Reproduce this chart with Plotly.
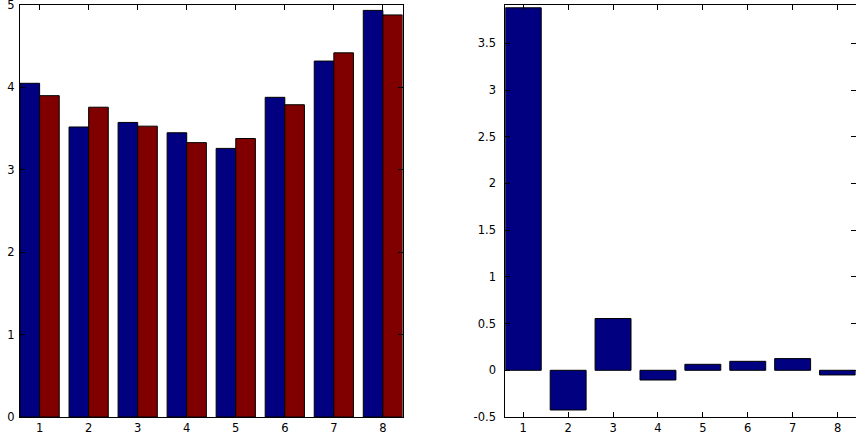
import plotly.graph_objects as go
from plotly.subplots import make_subplots

categories = [1, 2, 3, 4, 5, 6, 7, 8]
series_a = [4.05, 3.52, 3.575, 3.45, 3.26, 3.88, 4.32, 4.935]
series_b = [3.90, 3.76, 3.53, 3.33, 3.38, 3.79, 4.42, 4.88]
diff_values = [3.88, -0.425, 0.554, -0.104, 0.064, 0.096, 0.125, -0.05]

left_yticks = [0, 1, 2, 3, 4, 5]
right_yticks = [-0.5, 0, 0.5, 1, 1.5, 2, 2.5, 3, 3.5]
right_yticklabels = ["-0.5", "0", "0.5", "1", "1.5", "2", "2.5", "3", "3.5"]

navy = "#000080"
maroon = "#800000"

fig = make_subplots(rows=1, cols=2)

fig.add_trace(go.Bar(x=categories, y=series_a, marker=dict(color=navy, line=dict(color="black", width=1)),
                     showlegend=False), row=1, col=1)
fig.add_trace(go.Bar(x=categories, y=series_b, marker=dict(color=maroon, line=dict(color="black", width=1)),
                     showlegend=False), row=1, col=1)
fig.add_trace(go.Bar(x=categories, y=diff_values, marker=dict(color=navy, line=dict(color="black", width=1)),
                     showlegend=False), row=1, col=2)

font = dict(family="DejaVu Sans", size=11.5, color="black")
axis_common = dict(showline=True, linecolor="black", linewidth=1, mirror="allticks",
                   ticks="inside", ticklen=5, tickcolor="black", showgrid=False, zeroline=False,
                   tickfont=font, automargin=False, ticklabeloverflow="allow")

fig.update_layout(
    width=856, height=434,
    margin=dict(l=0, r=0, t=5, b=17),
    plot_bgcolor="white", paper_bgcolor="white",
    barmode="group", bargap=0.2, bargroupgap=0,
    xaxis=dict(domain=[20/856, 402.5/856], range=[0.6, 8.4], tickvals=categories,
               ticklabelstandoff=0, **axis_common),
    yaxis=dict(range=[0, 5.0005], tickvals=left_yticks, ticklabelstandoff=2, **axis_common),
    xaxis2=dict(domain=[505.3/856, 855.5/856], range=[0.6, 8.4], tickvals=categories,
                ticklabelstandoff=0, **axis_common),
    yaxis2=dict(range=[-0.5, 3.91], tickvals=right_yticks, ticktext=right_yticklabels,
                ticklabelstandoff=6, **axis_common),
)

fig.write_html("out.html", config={"displayModeBar": False},
               post_script="document.body.style.margin='0';")
